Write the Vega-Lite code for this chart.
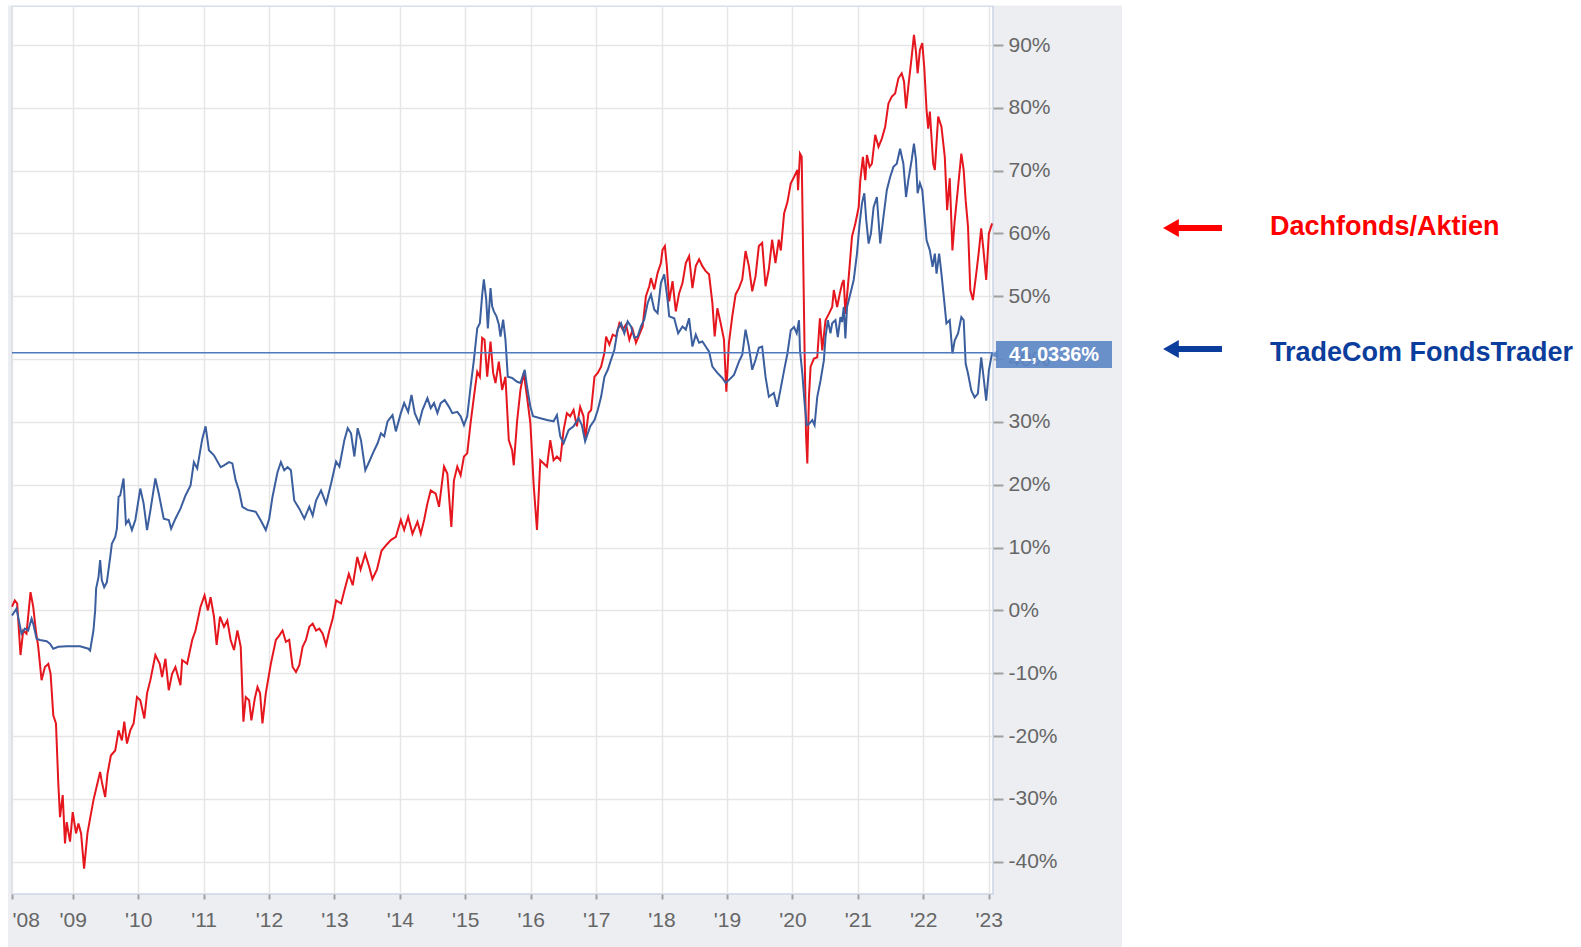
{
  "$schema": "https://vega.github.io/schema/vega-lite/v6.json",
  "autosize": {"type": "none"},
  "width": 981,
  "height": 888,
  "padding": {"left": 12, "top": 6, "right": 588, "bottom": 53},
  "background": "#eceef2",
  "config": {
    "view": {"fill": "white", "stroke": "#ccd5e8", "strokeWidth": 1.5},
    "axis": {
      "labelFont": "Liberation Sans",
      "labelFontSize": 21,
      "labelColor": "#666666",
      "gridColor": "#e6e6e6",
      "gridWidth": 1.5,
      "tickColor": "#a0a0a0",
      "tickWidth": 2,
      "domain": false,
      "title": null
    }
  },
  "datasets": {
    "one": [{"k": 1}],
    "red": [
      {"t":2008.072,"v":0.6},{"t":2008.115,"v":1.6},{"t":2008.151,"v":1.1},{"t":2008.202,"v":-7.1},{"t":2008.243,"v":-3.2},{"t":2008.294,"v":-3.7},{"t":2008.355,"v":2.9},{"t":2008.396,"v":0.6},{"t":2008.437,"v":-3.2},{"t":2008.473,"v":-5.8},{"t":2008.524,"v":-11.1},{"t":2008.575,"v":-9.0},{"t":2008.627,"v":-8.5},{"t":2008.662,"v":-10.1},{"t":2008.703,"v":-16.7},{"t":2008.744,"v":-18.0},{"t":2008.780,"v":-27.6},{"t":2008.806,"v":-32.9},{"t":2008.847,"v":-29.4},{"t":2008.882,"v":-37.1},{"t":2008.908,"v":-33.7},{"t":2008.959,"v":-36.8},{"t":2009.000,"v":-32.1},{"t":2009.051,"v":-35.5},{"t":2009.087,"v":-33.9},{"t":2009.128,"v":-35.5},{"t":2009.174,"v":-41.1},{"t":2009.225,"v":-35.5},{"t":2009.266,"v":-33.1},{"t":2009.317,"v":-30.2},{"t":2009.358,"v":-28.4},{"t":2009.419,"v":-25.7},{"t":2009.445,"v":-27.3},{"t":2009.496,"v":-29.7},{"t":2009.532,"v":-26.0},{"t":2009.583,"v":-23.1},{"t":2009.650,"v":-22.3},{"t":2009.701,"v":-19.1},{"t":2009.752,"v":-20.7},{"t":2009.788,"v":-17.7},{"t":2009.829,"v":-21.2},{"t":2009.880,"v":-19.1},{"t":2009.931,"v":-18.0},{"t":2009.982,"v":-13.8},{"t":2010.033,"v":-14.3},{"t":2010.095,"v":-17.2},{"t":2010.136,"v":-13.2},{"t":2010.187,"v":-11.1},{"t":2010.263,"v":-7.1},{"t":2010.330,"v":-8.5},{"t":2010.366,"v":-10.6},{"t":2010.417,"v":-7.7},{"t":2010.468,"v":-12.7},{"t":2010.519,"v":-10.1},{"t":2010.570,"v":-9.0},{"t":2010.647,"v":-11.9},{"t":2010.673,"v":-7.9},{"t":2010.749,"v":-8.5},{"t":2010.826,"v":-4.7},{"t":2010.877,"v":-3.2},{"t":2010.954,"v":0.6},{"t":2011.015,"v":2.4},{"t":2011.066,"v":0.0},{"t":2011.107,"v":2.1},{"t":2011.159,"v":-1.0},{"t":2011.200,"v":-5.5},{"t":2011.251,"v":-1.0},{"t":2011.312,"v":-2.6},{"t":2011.363,"v":-1.6},{"t":2011.414,"v":-4.7},{"t":2011.465,"v":-6.3},{"t":2011.517,"v":-3.2},{"t":2011.568,"v":-5.8},{"t":2011.609,"v":-17.7},{"t":2011.645,"v":-13.8},{"t":2011.696,"v":-14.3},{"t":2011.731,"v":-17.5},{"t":2011.783,"v":-14.0},{"t":2011.824,"v":-12.2},{"t":2011.864,"v":-13.2},{"t":2011.900,"v":-18.0},{"t":2011.951,"v":-13.2},{"t":2012.028,"v":-8.5},{"t":2012.105,"v":-4.7},{"t":2012.156,"v":-4.0},{"t":2012.207,"v":-3.2},{"t":2012.258,"v":-5.0},{"t":2012.309,"v":-4.7},{"t":2012.361,"v":-9.0},{"t":2012.412,"v":-9.8},{"t":2012.463,"v":-8.7},{"t":2012.514,"v":-5.8},{"t":2012.565,"v":-4.7},{"t":2012.616,"v":-2.6},{"t":2012.668,"v":-2.1},{"t":2012.719,"v":-3.2},{"t":2012.770,"v":-2.9},{"t":2012.821,"v":-3.7},{"t":2012.872,"v":-5.5},{"t":2012.923,"v":-3.2},{"t":2012.974,"v":-1.3},{"t":2013.026,"v":1.6},{"t":2013.102,"v":1.1},{"t":2013.16,"v":3.5},{"t":2013.22,"v":5.8},{"t":2013.28,"v":4.0},{"t":2013.35,"v":8.5},{"t":2013.40,"v":6.5},{"t":2013.47,"v":9.0},{"t":2013.53,"v":7.0},{"t":2013.58,"v":5.0},{"t":2013.65,"v":6.5},{"t":2013.72,"v":9.5},{"t":2013.80,"v":10.5},
      {"t":2013.863,"v":11.2},{"t":2013.939,"v":11.7},{"t":2014.015,"v":14.4},{"t":2014.066,"v":12.8},{"t":2014.127,"v":14.9},{"t":2014.193,"v":12.2},{"t":2014.269,"v":14.1},{"t":2014.320,"v":12.2},{"t":2014.371,"v":14.4},{"t":2014.421,"v":17.0},{"t":2014.472,"v":19.1},{"t":2014.548,"v":18.6},{"t":2014.599,"v":16.5},{"t":2014.675,"v":22.9},{"t":2014.726,"v":21.8},{"t":2014.787,"v":13.3},{"t":2014.827,"v":20.7},{"t":2014.878,"v":22.9},{"t":2014.929,"v":21.5},{"t":2014.980,"v":24.5},{"t":2015.030,"v":25.0},{"t":2015.081,"v":29.8},{"t":2015.132,"v":34.0},{"t":2015.183,"v":38.0},{"t":2015.223,"v":37.2},{"t":2015.259,"v":43.4},{"t":2015.294,"v":43.1},{"t":2015.335,"v":37.2},{"t":2015.386,"v":42.8},{"t":2015.426,"v":37.8},{"t":2015.462,"v":36.2},{"t":2015.513,"v":39.6},{"t":2015.563,"v":35.1},{"t":2015.614,"v":37.2},{"t":2015.665,"v":27.1},{"t":2015.716,"v":25.5},{"t":2015.741,"v":23.1},{"t":2015.792,"v":30.1},{"t":2015.843,"v":35.1},{"t":2015.893,"v":37.8},{"t":2015.944,"v":34.0},{"t":2015.995,"v":29.8},{"t":2016.046,"v":19.9},{"t":2016.096,"v":12.8},{"t":2016.147,"v":23.9},{"t":2016.198,"v":23.4},{"t":2016.249,"v":22.9},{"t":2016.299,"v":27.1},{"t":2016.350,"v":23.9},{"t":2016.401,"v":24.5},{"t":2016.452,"v":23.9},{"t":2016.503,"v":28.7},{"t":2016.553,"v":31.4},{"t":2016.604,"v":30.9},{"t":2016.655,"v":31.9},{"t":2016.706,"v":29.3},{"t":2016.756,"v":32.4},{"t":2016.807,"v":30.9},{"t":2016.832,"v":27.1},{"t":2016.883,"v":31.4},
      {"t":2016.924,"v":31.9},{"t":2016.975,"v":37.2},{"t":2017.025,"v":37.8},{"t":2017.076,"v":38.8},{"t":2017.127,"v":41.0},{"t":2017.152,"v":43.6},{"t":2017.203,"v":42.3},{"t":2017.254,"v":43.9},{"t":2017.305,"v":43.6},{"t":2017.355,"v":45.7},{"t":2017.406,"v":44.7},{"t":2017.457,"v":45.5},{"t":2017.508,"v":43.1},{"t":2017.558,"v":44.7},{"t":2017.609,"v":42.6},{"t":2017.660,"v":43.9},{"t":2017.711,"v":45.2},{"t":2017.761,"v":50.0},{"t":2017.812,"v":51.6},{"t":2017.838,"v":52.9},{"t":2017.888,"v":51.1},{"t":2017.939,"v":53.7},{"t":2017.990,"v":55.3},{"t":2018.015,"v":57.4},{"t":2018.051,"v":58.0},{"t":2018.081,"v":54.8},{"t":2018.117,"v":49.2},{"t":2018.168,"v":52.4},{"t":2018.218,"v":47.6},{"t":2018.269,"v":50.5},{"t":2018.320,"v":52.1},{"t":2018.371,"v":55.3},{"t":2018.421,"v":56.4},{"t":2018.472,"v":51.3},{"t":2018.523,"v":54.8},{"t":2018.574,"v":55.9},{"t":2018.624,"v":54.8},{"t":2018.675,"v":54.0},{"t":2018.726,"v":53.5},{"t":2018.777,"v":48.9},{"t":2018.812,"v":43.6},{"t":2018.853,"v":48.1},{"t":2018.904,"v":45.7},{"t":2018.954,"v":43.1},{"t":2018.990,"v":34.8},{"t":2019.030,"v":42.6},{"t":2019.081,"v":46.8},{"t":2019.132,"v":50.3},{"t":2019.183,"v":51.3},{"t":2019.234,"v":52.7},{"t":2019.284,"v":57.2},{"t":2019.335,"v":54.8},{"t":2019.386,"v":50.8},{"t":2019.437,"v":53.2},{"t":2019.487,"v":58.0},{"t":2019.538,"v":58.5},{"t":2019.589,"v":51.6},{"t":2019.640,"v":54.3},{"t":2019.690,"v":59.0},{"t":2019.741,"v":55.3},{"t":2019.792,"v":59.0},
      {"t":2019.823,"v":57.3},{"t":2019.873,"v":63.2},{"t":2019.924,"v":65.0},{"t":2019.975,"v":68.0},{"t":2020.025,"v":69.0},{"t":2020.076,"v":70.1},{"t":2020.086,"v":66.9},{"t":2020.116,"v":72.7},{"t":2020.142,"v":72.2},{"t":2020.167,"v":54.7},{"t":2020.187,"v":40.9},{"t":2020.208,"v":28.1},{"t":2020.228,"v":23.4},{"t":2020.253,"v":34.0},{"t":2020.278,"v":38.8},{"t":2020.329,"v":40.1},{"t":2020.380,"v":40.3},{"t":2020.420,"v":46.5},{"t":2020.456,"v":41.4},{"t":2020.506,"v":46.2},{"t":2020.557,"v":47.2},{"t":2020.608,"v":48.3},{"t":2020.633,"v":51.0},{"t":2020.684,"v":48.3},{"t":2020.724,"v":50.4},{"t":2020.759,"v":52.0},{"t":2020.785,"v":52.6},{"t":2020.810,"v":47.2},{"t":2020.861,"v":53.1},{"t":2020.911,"v":59.5},{"t":2020.962,"v":61.6},{"t":2021.013,"v":64.2},{"t":2021.038,"v":68.5},{"t":2021.078,"v":72.2},{"t":2021.114,"v":68.5},{"t":2021.139,"v":72.5},{"t":2021.180,"v":70.6},{"t":2021.215,"v":71.1},{"t":2021.266,"v":75.7},{"t":2021.316,"v":73.8},{"t":2021.367,"v":75.1},{"t":2021.418,"v":77.0},{"t":2021.468,"v":80.7},{"t":2021.519,"v":81.8},{"t":2021.570,"v":82.3},{"t":2021.620,"v":84.7},{"t":2021.671,"v":85.5},{"t":2021.706,"v":84.2},{"t":2021.737,"v":79.9},{"t":2021.772,"v":83.4},{"t":2021.823,"v":88.1},{"t":2021.858,"v":91.6},{"t":2021.889,"v":88.9},{"t":2021.914,"v":85.5},{"t":2021.949,"v":89.2},{"t":2021.985,"v":90.3},{"t":2022.015,"v":86.5},{"t":2022.051,"v":79.6},{"t":2022.076,"v":76.7},{"t":2022.101,"v":79.4},{"t":2022.152,"v":71.1},{"t":2022.177,"v":70.1},{"t":2022.228,"v":78.6},{"t":2022.278,"v":77.0},{"t":2022.329,"v":72.2},{"t":2022.365,"v":63.7},{"t":2022.405,"v":68.8},{"t":2022.446,"v":57.3},{"t":2022.481,"v":62.1},{"t":2022.532,"v":67.4},{"t":2022.582,"v":72.7},{"t":2022.618,"v":70.1},{"t":2022.648,"v":65.3},{"t":2022.684,"v":61.1},{"t":2022.719,"v":51.0},{"t":2022.759,"v":49.4},{"t":2022.810,"v":53.6},{"t":2022.846,"v":56.8},{"t":2022.886,"v":60.8},{"t":2022.921,"v":57.3},{"t":2022.962,"v":52.6},{"t":2023.003,"v":60.0},{"t":2023.053,"v":61.6}
    ],
    "blue": [
      {"t":2008.072,"v":-0.8},{"t":2008.141,"v":0.3},{"t":2008.217,"v":-3.7},{"t":2008.269,"v":-2.9},{"t":2008.320,"v":-3.2},{"t":2008.371,"v":-1.3},{"t":2008.396,"v":-2.1},{"t":2008.448,"v":-4.5},{"t":2008.499,"v":-4.7},{"t":2008.601,"v":-4.9},{"t":2008.652,"v":-5.3},{"t":2008.703,"v":-6.1},{"t":2008.780,"v":-5.8},{"t":2008.908,"v":-5.7},{"t":2009.113,"v":-5.7},{"t":2009.240,"v":-6.1},{"t":2009.266,"v":-6.4},{"t":2009.317,"v":-3.2},{"t":2009.343,"v":0.0},{"t":2009.358,"v":3.5},{"t":2009.394,"v":5.3},{"t":2009.419,"v":8.0},{"t":2009.445,"v":4.8},{"t":2009.481,"v":3.7},{"t":2009.522,"v":4.5},{"t":2009.573,"v":8.5},{"t":2009.598,"v":10.6},{"t":2009.650,"v":11.7},{"t":2009.675,"v":13.0},{"t":2009.701,"v":18.1},{"t":2009.726,"v":18.3},{"t":2009.777,"v":21.0},{"t":2009.813,"v":13.8},{"t":2009.854,"v":14.4},{"t":2009.905,"v":12.8},{"t":2009.957,"v":14.4},{"t":2010.033,"v":19.4},{"t":2010.084,"v":17.0},{"t":2010.136,"v":12.8},{"t":2010.187,"v":15.9},{"t":2010.263,"v":21.0},{"t":2010.315,"v":18.6},{"t":2010.391,"v":14.6},{"t":2010.468,"v":14.4},{"t":2010.504,"v":13.0},{"t":2010.570,"v":14.6},{"t":2010.647,"v":16.2},{"t":2010.724,"v":18.3},{"t":2010.801,"v":19.9},{"t":2010.852,"v":23.6},{"t":2010.903,"v":22.6},{"t":2010.980,"v":27.3},{"t":2011.031,"v":29.3},{"t":2011.082,"v":25.5},{"t":2011.159,"v":24.7},{"t":2011.261,"v":22.8},{"t":2011.312,"v":23.1},{"t":2011.389,"v":23.6},{"t":2011.440,"v":23.4},{"t":2011.491,"v":20.7},{"t":2011.542,"v":19.1},{"t":2011.593,"v":16.5},{"t":2011.670,"v":16.0},{"t":2011.798,"v":15.7},{"t":2011.875,"v":14.3},{"t":2011.951,"v":12.8},{"t":2012.003,"v":14.6},{"t":2012.054,"v":18.1},{"t":2012.130,"v":22.0},{"t":2012.182,"v":23.6},{"t":2012.233,"v":22.3},{"t":2012.284,"v":22.8},{"t":2012.335,"v":22.3},{"t":2012.386,"v":17.5},{"t":2012.463,"v":16.2},{"t":2012.540,"v":14.6},{"t":2012.616,"v":16.5},{"t":2012.668,"v":15.1},{"t":2012.719,"v":17.5},{"t":2012.795,"v":19.1},
      {"t":2012.873,"v":17.0},{"t":2012.949,"v":20.2},{"t":2013.025,"v":23.7},{"t":2013.076,"v":22.9},{"t":2013.152,"v":27.1},{"t":2013.203,"v":29.0},{"t":2013.254,"v":28.2},{"t":2013.305,"v":24.5},{"t":2013.355,"v":29.0},{"t":2013.406,"v":27.1},{"t":2013.472,"v":22.3},{"t":2013.533,"v":23.7},{"t":2013.609,"v":25.5},{"t":2013.660,"v":26.6},{"t":2013.711,"v":28.2},{"t":2013.761,"v":27.7},{"t":2013.812,"v":30.1},{"t":2013.888,"v":31.1},{"t":2013.939,"v":28.5},{"t":2014.015,"v":31.4},{"t":2014.066,"v":33.0},{"t":2014.127,"v":31.6},{"t":2014.178,"v":34.3},{"t":2014.228,"v":31.4},{"t":2014.294,"v":29.8},{"t":2014.345,"v":31.9},{"t":2014.421,"v":33.8},{"t":2014.472,"v":32.2},{"t":2014.523,"v":33.0},{"t":2014.574,"v":31.4},{"t":2014.624,"v":33.0},{"t":2014.685,"v":33.5},{"t":2014.751,"v":32.4},{"t":2014.802,"v":31.4},{"t":2014.878,"v":31.6},{"t":2014.929,"v":30.9},{"t":2014.980,"v":29.5},{"t":2015.030,"v":30.9},{"t":2015.081,"v":35.6},{"t":2015.132,"v":39.9},{"t":2015.183,"v":44.9},{"t":2015.223,"v":45.7},{"t":2015.259,"v":50.3},{"t":2015.284,"v":52.7},{"t":2015.320,"v":49.5},{"t":2015.345,"v":44.9},{"t":2015.386,"v":51.3},{"t":2015.411,"v":48.4},{"t":2015.437,"v":47.6},{"t":2015.477,"v":46.8},{"t":2015.513,"v":45.5},{"t":2015.538,"v":43.6},{"t":2015.579,"v":46.3},{"t":2015.614,"v":43.1},{"t":2015.650,"v":37.2},{"t":2015.716,"v":37.0},{"t":2015.792,"v":36.4},{"t":2015.843,"v":36.2},{"t":2015.909,"v":38.3},{"t":2015.944,"v":35.6},{"t":2015.995,"v":32.4},{"t":2016.036,"v":30.9},{"t":2016.147,"v":30.6},{"t":2016.249,"v":30.3},{"t":2016.350,"v":30.1},{"t":2016.401,"v":31.1},{"t":2016.452,"v":27.7},{"t":2016.503,"v":26.6},{"t":2016.579,"v":28.7},{"t":2016.655,"v":29.3},{"t":2016.731,"v":30.6},{"t":2016.782,"v":29.5},{"t":2016.832,"v":26.9},{"t":2016.909,"v":29.3},
      {"t":2016.975,"v":30.3},{"t":2017.025,"v":31.9},{"t":2017.076,"v":34.0},{"t":2017.127,"v":37.2},{"t":2017.178,"v":38.3},{"t":2017.228,"v":39.9},{"t":2017.279,"v":41.5},{"t":2017.330,"v":44.7},{"t":2017.381,"v":45.7},{"t":2017.431,"v":44.1},{"t":2017.482,"v":46.0},{"t":2017.533,"v":45.2},{"t":2017.584,"v":43.4},{"t":2017.635,"v":43.6},{"t":2017.685,"v":45.2},{"t":2017.736,"v":46.3},{"t":2017.787,"v":48.9},{"t":2017.838,"v":50.3},{"t":2017.888,"v":47.9},{"t":2017.939,"v":47.3},{"t":2017.990,"v":52.1},{"t":2018.041,"v":53.5},{"t":2018.091,"v":49.5},{"t":2018.117,"v":46.8},{"t":2018.193,"v":46.5},{"t":2018.254,"v":44.1},{"t":2018.320,"v":45.2},{"t":2018.371,"v":44.7},{"t":2018.421,"v":46.5},{"t":2018.472,"v":42.0},{"t":2018.523,"v":43.9},{"t":2018.574,"v":42.6},{"t":2018.624,"v":42.8},{"t":2018.675,"v":42.0},{"t":2018.726,"v":41.2},{"t":2018.777,"v":38.8},{"t":2018.853,"v":37.8},{"t":2018.929,"v":37.0},{"t":2018.980,"v":36.2},{"t":2019.030,"v":36.7},{"t":2019.107,"v":37.5},{"t":2019.183,"v":39.6},{"t":2019.234,"v":40.7},{"t":2019.284,"v":44.7},{"t":2019.335,"v":42.0},{"t":2019.386,"v":38.3},{"t":2019.437,"v":39.9},{"t":2019.487,"v":41.8},{"t":2019.538,"v":42.0},{"t":2019.589,"v":37.2},{"t":2019.640,"v":34.0},{"t":2019.716,"v":34.6},{"t":2019.766,"v":32.4},{"t":2019.817,"v":35.1},
      {"t":2019.873,"v":38.2},{"t":2019.924,"v":40.9},{"t":2019.975,"v":44.6},{"t":2020.025,"v":45.1},{"t":2020.066,"v":44.1},{"t":2020.101,"v":46.2},{"t":2020.116,"v":41.4},{"t":2020.152,"v":37.7},{"t":2020.187,"v":32.9},{"t":2020.218,"v":29.5},{"t":2020.253,"v":29.7},{"t":2020.304,"v":30.3},{"t":2020.339,"v":29.5},{"t":2020.380,"v":34.0},{"t":2020.430,"v":36.6},{"t":2020.481,"v":39.8},{"t":2020.506,"v":43.5},{"t":2020.542,"v":46.2},{"t":2020.582,"v":44.1},{"t":2020.608,"v":45.7},{"t":2020.658,"v":46.2},{"t":2020.694,"v":43.5},{"t":2020.734,"v":46.7},{"t":2020.759,"v":45.9},{"t":2020.785,"v":48.3},{"t":2020.810,"v":43.3},{"t":2020.835,"v":48.3},{"t":2020.886,"v":50.4},{"t":2020.937,"v":52.6},{"t":2020.987,"v":56.8},{"t":2021.023,"v":61.1},{"t":2021.063,"v":64.8},{"t":2021.099,"v":66.4},{"t":2021.129,"v":62.1},{"t":2021.165,"v":58.4},{"t":2021.200,"v":60.0},{"t":2021.241,"v":64.2},{"t":2021.291,"v":65.8},{"t":2021.342,"v":58.4},{"t":2021.392,"v":62.7},{"t":2021.443,"v":66.9},{"t":2021.494,"v":69.0},{"t":2021.544,"v":70.6},{"t":2021.595,"v":71.1},{"t":2021.646,"v":73.5},{"t":2021.696,"v":71.1},{"t":2021.737,"v":65.8},{"t":2021.772,"v":68.5},{"t":2021.823,"v":71.7},{"t":2021.858,"v":74.3},{"t":2021.889,"v":71.7},{"t":2021.914,"v":66.4},{"t":2021.949,"v":68.0},{"t":2021.985,"v":66.9},{"t":2022.025,"v":62.1},{"t":2022.051,"v":58.9},{"t":2022.101,"v":57.3},{"t":2022.142,"v":54.7},{"t":2022.177,"v":56.8},{"t":2022.203,"v":53.6},{"t":2022.243,"v":56.8},{"t":2022.278,"v":53.6},{"t":2022.314,"v":49.9},{"t":2022.354,"v":45.7},{"t":2022.405,"v":46.2},{"t":2022.446,"v":40.9},{"t":2022.481,"v":43.0},{"t":2022.532,"v":44.1},{"t":2022.582,"v":46.7},{"t":2022.618,"v":46.2},{"t":2022.648,"v":39.3},{"t":2022.684,"v":37.7},{"t":2022.734,"v":35.0},{"t":2022.785,"v":33.9},{"t":2022.835,"v":34.5},{"t":2022.886,"v":40.3},{"t":2022.921,"v":37.2},{"t":2022.962,"v":33.4},{"t":2023.003,"v":38.2},{"t":2023.053,"v":41.0336}
    ]
  },
  "encoding": {
    "x": {
      "type": "quantitative",
      "scale": {"domain": [2008.072, 2023.066], "nice": false, "zero": false},
      "axis": {
        "orient": "bottom",
        "values": [2008.072, 2009, 2010, 2011, 2012, 2013, 2014, 2015, 2016, 2017, 2018, 2019, 2020, 2021, 2022, 2023],
        "labelExpr": "\"'\" + substring(toString(floor(datum.value)), 2, 4)",
        "labelFlush": true,
        "labelFlushOffset": 0,
        "tickSize": 5,
        "labelPadding": 10,
        "grid": true
      }
    },
    "y": {
      "type": "quantitative",
      "scale": {"domain": [-45.14, 96.21], "nice": false, "zero": false},
      "axis": {
        "orient": "right",
        "values": [-40, -30, -20, -10, 0, 10, 20, 30, 40, 50, 60, 70, 80, 90],
        "labelExpr": "datum.value + '%'",
        "tickSize": 10,
        "labelPadding": 5,
        "grid": true
      }
    }
  },
  "layer": [
    {
      "data": {"name": "one"},
      "mark": {"type": "rect", "color": "white"},
      "encoding": {
        "x": {"datum": 2025.038},
        "x2": {"datum": 2060},
        "y": {"datum": -80},
        "y2": {"datum": 140}
      }
    },
    {
      "data": {"name": "one"},
      "mark": {"type": "rect", "color": "white"},
      "encoding": {
        "x": {"datum": 1990},
        "x2": {"datum": 2060},
        "y": {"datum": 96.3},
        "y2": {"datum": 140}
      }
    },
    {
      "data": {"name": "one"},
      "mark": {"type": "rect", "color": "white"},
      "encoding": {
        "x": {"datum": 1990},
        "x2": {"datum": 2008.01},
        "y": {"datum": -80},
        "y2": {"datum": 140}
      }
    },
    {
      "data": {"name": "red"},
      "mark": {"type": "line", "color": "#e5161d", "strokeWidth": 2},
      "encoding": {"x": {"field": "t"}, "y": {"field": "v"}}
    },
    {
      "data": {"name": "blue"},
      "mark": {"type": "line", "color": "#3b5e9e", "strokeWidth": 2},
      "encoding": {"x": {"field": "t"}, "y": {"field": "v"}}
    },
    {
      "data": {"name": "one"},
      "mark": {"type": "rule", "color": "#4f79bd", "strokeWidth": 1.5},
      "encoding": {"x": {"datum": 2008.072}, "x2": {"datum": 2023.066}, "y": {"datum": 41.0336}}
    },
    {
      "data": {"name": "one"},
      "mark": {"type": "rect", "color": "#5b85c4", "opacity": 0.9},
      "encoding": {
        "x": {"datum": 2023.112},
        "x2": {"datum": 2024.885},
        "y": {"datum": 38.58},
        "y2": {"datum": 42.88}
      }
    },
    {
      "data": {"name": "one"},
      "mark": {"type": "point", "shape": "triangle-left", "filled": true, "color": "#5b85c4", "opacity": 0.9, "size": 90},
      "encoding": {"x": {"datum": 2023.09}, "y": {"datum": 40.73}}
    },
    {
      "data": {"name": "one"},
      "mark": {"type": "text", "color": "white", "font": "Liberation Sans", "fontSize": 20, "fontWeight": "bold", "align": "center", "baseline": "middle"},
      "encoding": {"x": {"datum": 2024.0}, "y": {"datum": 40.73}, "text": {"value": "41,0336%"}}
    },
    {
      "data": {"name": "one"},
      "mark": {"type": "rule", "color": "#ff0000", "strokeWidth": 6},
      "encoding": {"x": {"datum": 2025.87}, "x2": {"datum": 2026.566}, "y": {"datum": 60.87}}
    },
    {
      "data": {"name": "one"},
      "mark": {"type": "point", "shape": "triangle-left", "filled": true, "color": "#ff0000", "opacity": 1, "size": 330},
      "encoding": {"x": {"datum": 2025.786}, "y": {"datum": 60.87}}
    },
    {
      "data": {"name": "one"},
      "mark": {"type": "rule", "color": "#0b3d9c", "strokeWidth": 6},
      "encoding": {"x": {"datum": 2025.87}, "x2": {"datum": 2026.566}, "y": {"datum": 41.61}}
    },
    {
      "data": {"name": "one"},
      "mark": {"type": "point", "shape": "triangle-left", "filled": true, "color": "#0b3d9c", "opacity": 1, "size": 330},
      "encoding": {"x": {"datum": 2025.786}, "y": {"datum": 41.61}}
    },
    {
      "data": {"name": "one"},
      "mark": {"type": "text", "color": "#ff0000", "font": "Liberation Sans", "fontSize": 27, "fontWeight": "bold", "align": "left", "baseline": "middle"},
      "encoding": {"x": {"datum": 2027.30}, "y": {"datum": 61.03}, "text": {"value": "Dachfonds/Aktien"}}
    },
    {
      "data": {"name": "one"},
      "mark": {"type": "text", "color": "#0b3d9c", "font": "Liberation Sans", "fontSize": 27, "fontWeight": "bold", "align": "left", "baseline": "middle"},
      "encoding": {"x": {"datum": 2027.30}, "y": {"datum": 40.97}, "text": {"value": "TradeCom FondsTrader"}}
    }
  ]
}
